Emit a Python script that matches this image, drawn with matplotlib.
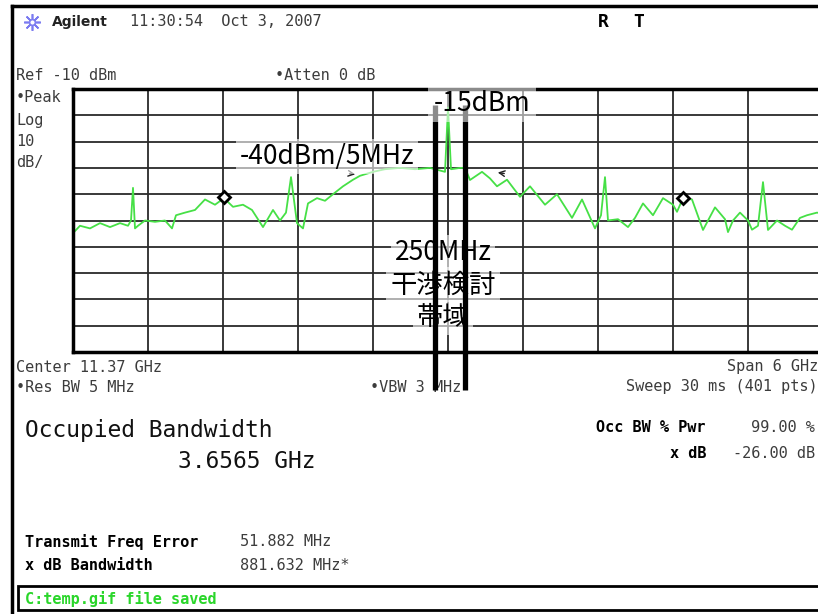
import numpy as np
import matplotlib.pyplot as plt
from matplotlib.patches import Rectangle

# spectrum analyzer screen: center 11.37 GHz, span 6 GHz, ref -10 dBm, 10 dB/div
center_ghz = 11.37
span_ghz = 6.0
ref_dbm = -10
db_per_div = 10

# trace (GHz, dBm)
freq = [8.37, 8.426, 8.506, 8.586, 8.666, 8.746, 8.81, 8.834, 8.85, 8.866,
        8.89, 8.946, 9.026, 9.106, 9.162, 9.194, 9.266, 9.346, 9.426, 9.506,
        9.578, 9.65, 9.73, 9.802, 9.89, 9.97, 10.026, 10.074, 10.114, 10.162,
        10.21, 10.25, 10.322, 10.386, 10.45, 10.53, 10.61, 10.666, 10.77, 10.866,
        10.986, 11.106, 11.226, 11.306, 11.346, 11.37, 11.394, 11.466, 11.506, 11.546,
        11.642, 11.706, 11.762, 11.842, 11.946, 12.026, 12.146, 12.242, 12.362, 12.442,
        12.546, 12.594, 12.626, 12.65, 12.73, 12.81, 12.866, 12.93, 13.01, 13.09,
        13.17, 13.202, 13.25, 13.322, 13.41, 13.506, 13.586, 13.61, 13.65, 13.706,
        13.77, 13.802, 13.85, 13.89, 13.93, 14.002, 14.066, 14.122, 14.186, 14.242,
        14.322, 14.37]
level = [-64.8, -62, -63, -61, -62.5, -61, -62, -60, -47.6, -63,
         -62, -60, -60.5, -60, -63, -58, -57, -56, -52, -54,
         -51.5, -54.8, -54, -56, -62.5, -56, -60, -57, -43.5, -61,
         -63, -53.5, -51.5, -52.5, -50, -47, -44.5, -43, -41.5, -40.5,
         -40, -40.5, -40, -41, -41.5, -17, -40.5, -40, -40, -44.6,
         -41.5, -44, -47, -44.5, -51, -47, -54, -50, -59, -52,
         -63, -58, -43.5, -60, -59.5, -62.5, -59, -53.5, -58, -51.5,
         -54, -56.7, -51.5, -52, -63.6, -55, -59.5, -64.4, -60, -57,
         -60, -63.5, -62, -45.4, -63.6, -60, -62, -63.5, -59, -58,
         -57, -57.5]

marker_freq = [9.578, 13.25]
marker_level = [-51.1, -51.4]

band_edges = [11.27, 11.51]   # 250MHz study band lines

W, H = 818, 614
fig = plt.figure(figsize=(W / 100, H / 100), dpi=100)

# full-screen pixel axes for the instrument text
bg = fig.add_axes([0, 0, 1, 1])
bg.set_xlim(0, W)
bg.set_ylim(H, 0)
bg.axis('off')

mono = 'DejaVu Sans Mono'
grey = '#3c3c3c'

bg.plot([12, 12], [6, H], color='black', lw=2.5)
bg.plot([12, W], [6, 6], color='black', lw=2.5)

# agilent logo
bg.plot(32, 22, marker=(8, 2, 0), ms=12, color='#7b7bf0', mew=1.2)
bg.plot(32, 22, 'o', ms=4, mfc='white', mec='#7b7bf0', mew=1)
bg.text(52, 22, 'Agilent', fontsize=10, fontweight='bold', va='center', color='#222')
bg.text(130, 22, '11:30:54  Oct 3, 2007', family=mono, fontsize=11, va='center', color=grey)
bg.text(603, 22, 'R', family=mono, fontsize=13, fontweight='bold', va='center', ha='center')
bg.text(639, 22, 'T', family=mono, fontsize=13, fontweight='bold', va='center', ha='center')

bg.text(16, 75, 'Ref -10 dBm', family=mono, fontsize=11, va='center', color=grey)
bg.text(275, 75, '•Atten 0 dB', family=mono, fontsize=11, va='center', color=grey)
for lab, yy in [('•Peak', 98), ('Log', 120), ('10', 142), ('dB/', 163)]:
    bg.text(16, yy, lab, family=mono, fontsize=11, va='center', color=grey)

bg.text(16, 367, 'Center 11.37 GHz', family=mono, fontsize=11, va='center', color=grey)
bg.text(818, 367, 'Span 6 GHz', family=mono, fontsize=11, va='center', ha='right', color=grey)
bg.text(16, 387, '•Res BW 5 MHz', family=mono, fontsize=11, va='center', color=grey)
bg.text(370, 387, '•VBW 3 MHz', family=mono, fontsize=11, va='center', color=grey)
bg.text(818, 387, 'Sweep 30 ms (401 pts)', family=mono, fontsize=11, va='center', ha='right', color=grey)

bg.text(25, 430, 'Occupied Bandwidth', family=mono, fontsize=16.5, va='center', color='#111')
bg.text(178, 462, '3.6565 GHz', family=mono, fontsize=16.5, va='center', color='#111')
bg.text(706, 428, 'Occ BW % Pwr', family=mono, fontsize=11, fontweight='bold', va='center', ha='right')
bg.text(815, 428, '99.00 %', family=mono, fontsize=11, va='center', ha='right', color=grey)
bg.text(706, 453, 'x dB', family=mono, fontsize=11, fontweight='bold', va='center', ha='right')
bg.text(815, 453, '-26.00 dB', family=mono, fontsize=11, va='center', ha='right', color=grey)

bg.text(25, 542, 'Transmit Freq Error', family=mono, fontsize=11, fontweight='bold', va='center')
bg.text(240, 542, '51.882 MHz', family=mono, fontsize=11, va='center', color=grey)
bg.text(25, 565, 'x dB Bandwidth', family=mono, fontsize=11, fontweight='bold', va='center')
bg.text(240, 565, '881.632 MHz*', family=mono, fontsize=11, va='center', color=grey)

bg.add_patch(Rectangle((18, 586), 810, 24, fc='white', ec='black', lw=2))
bg.text(25, 599, 'C:temp.gif file saved', family=mono, fontsize=11, fontweight='bold',
        va='center', color='#2ad62a')

# spectrum graticule
ax = fig.add_axes([73 / W, 1 - 352 / H, 750 / W, 263 / H])
ax.set_zorder(2)
f0 = center_ghz - span_ghz / 2
f1 = center_ghz + span_ghz / 2
ax.set_xlim(f0, f1)
ax.set_ylim(ref_dbm - 10 * db_per_div, ref_dbm)
ax.set_xticks(np.linspace(f0, f1, 11))
ax.set_yticks(np.linspace(ref_dbm - 10 * db_per_div, ref_dbm, 11))
ax.tick_params(length=0, labelbottom=False, labelleft=False)
ax.grid(True, color='#2a2a2a', lw=1.3)
ax.set_axisbelow(True)
for s in ax.spines.values():
    s.set_linewidth(2.5)

ax.plot(freq, level, color='#46e046', lw=1.3, zorder=2)
ax.plot(marker_freq, marker_level, 'D', ms=6, mfc='white', mec='black', mew=2, zorder=3)

ax.annotate('', xy=(10.65, -42.6), xytext=(10.56, -42.0),
            arrowprops=dict(arrowstyle='->', lw=1, color='#222'), zorder=3)
ax.annotate('', xy=(11.746, -41.6), xytext=(11.842, -42.3),
            arrowprops=dict(arrowstyle='->', lw=1, color='#222'), zorder=3)

jp = ['Noto Sans CJK JP', 'DejaVu Sans']
box = dict(boxstyle='square,pad=0.15', fc=(1, 1, 1, 0.6), ec='none')
ax.text(10.40, -35.5, '-40dBm/5MHz', family=jp, fontsize=19, ha='center', va='center',
        bbox=box, zorder=4)
ax.text(11.33, -72, '250MHz', family=jp, fontsize=19, ha='center', va='center',
        bbox=box, zorder=4)
ax.text(11.33, -84.5, '干渉検討', family=jp, fontsize=19, ha='center', va='center',
        bbox=box, zorder=4)
ax.text(11.33, -97, '帯域', family=jp, fontsize=19, ha='center', va='center',
        bbox=box, zorder=4)

ax.vlines(band_edges, -124.4, -16, color='black', lw=3.8, clip_on=False, zorder=5)
ax.text(11.642, -15.5, '-15dBm', family=jp, fontsize=19, ha='center', va='center',
        bbox=dict(boxstyle='square,pad=0.2', fc=(1, 1, 1, 0.55), ec='none'),
        zorder=6, clip_on=False)

fig.savefig('out.png', dpi=100)
